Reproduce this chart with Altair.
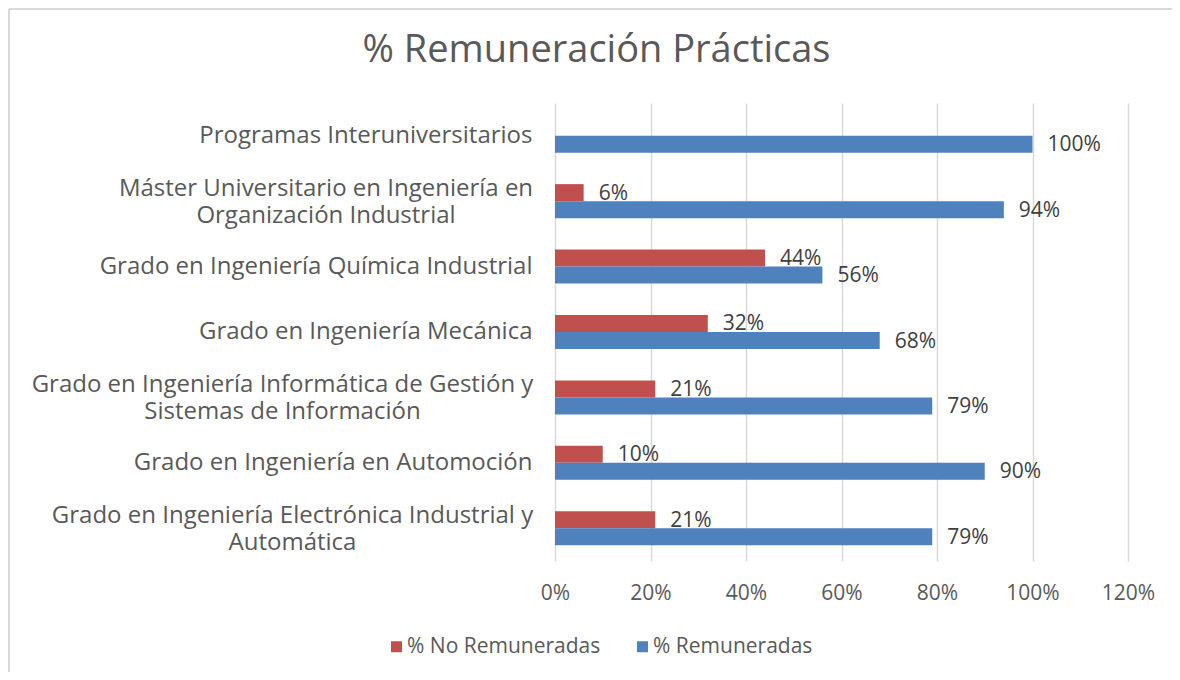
import json
import altair as alt
import pandas as pd

categories = [
    "Programas Interuniversitarios",
    "Máster Universitario en Ingeniería en\nOrganización Industrial",
    "Grado en Ingeniería Química Industrial",
    "Grado en Ingeniería Mecánica",
    "Grado en Ingeniería Informática de Gestión y\nSistemas de Información",
    "Grado en Ingeniería en Automoción",
    "Grado en Ingeniería Electrónica Industrial y\nAutomática",
]
no_remuneradas = [None, 6, 44, 32, 21, 10, 21]
remuneradas = [100, 94, 56, 68, 79, 90, 79]
series = ["% No Remuneradas", "% Remuneradas"]
colors = ["#C0504D", "#4F81BD"]
x_ticks = [0, 20, 40, 60, 80, 100, 120]

rows = []
for c, a, b in zip(categories, no_remuneradas, remuneradas):
    if a is not None:
        rows.append({"cat": c, "serie": series[0], "val": a, "lbl": f"{a}%"})
    if b is not None:
        rows.append({"cat": c, "serie": series[1], "val": b, "lbl": f"{b}%"})
df = pd.DataFrame(rows)

FONT = "Open Sans"
W, H = 573, 458
LABEL_GAP = 23
# approximate rendered widths (px) of the two-line label blocks, so their lines can be centred
block_width = {categories[1]: 413, categories[4]: 500, categories[6]: 480}


def _test(c):
    return f"datum.value == {json.dumps(c, ensure_ascii=False)}"


align_conds = [{"test": _test(c), "value": "center"} for c in block_width]
pad_conds = [{"test": _test(c), "value": LABEL_GAP + w / 2} for c, w in block_width.items()]
off_conds = [{"test": _test(c), "value": -12} for c in block_width]

y_enc = alt.Y(
    "cat:N", sort=categories,
    scale=alt.Scale(paddingInner=0.48, paddingOuter=0.24),
    axis=alt.Axis(title=None, domain=False, ticks=False, labelFontSize=24,
                  labelColor="#595959", labelFont=FONT, labelLimit=0,
                  labelAlign={"condition": align_conds, "value": "right"},
                  labelPadding={"condition": pad_conds, "value": LABEL_GAP},
                  labelOffset={"condition": off_conds, "value": 0},
                  labelExpr="split(datum.label, '\\n')",
                  labelLineHeight=27, labelBaseline="middle"),
)
yoff = alt.YOffset("serie:N", sort=series, scale=alt.Scale(paddingInner=0, paddingOuter=0))
x_enc = alt.X(
    "val:Q", scale=alt.Scale(domain=[0, 120], nice=False),
    axis=alt.Axis(title=None, values=x_ticks, domain=False, ticks=False,
                  grid=True, gridColor="#D9D9D9", gridWidth=1.5,
                  labelFontSize=21, labelColor="#595959", labelFont=FONT,
                  labelFlush=False, labelOverlap=False,
                  labelPadding=21, labelExpr="datum.value + '%'"),
)

base = alt.Chart(df)
bars = base.mark_bar().encode(
    x=x_enc, y=y_enc, yOffset=yoff,
    color=alt.Color("serie:N", sort=series,
                    scale=alt.Scale(domain=series, range=colors),
                    legend=alt.Legend(orient="none", legendX=-169, legendY=533,
                                      direction="horizontal", title=None,
                                      symbolType="square", symbolSize=121,
                                      symbolStrokeWidth=0, labelFontSize=21,
                                      labelColor="#595959", labelFont=FONT,
                                      labelLimit=0, columnPadding=31, labelOffset=0)),
)
texts = base.mark_text(align="left", baseline="middle", dx=15, dy=1,
                       fontSize=21, color="#404040", font=FONT).encode(
    x="val:Q", y=alt.Y("cat:N", sort=categories), yOffset=yoff, text="lbl:N")

border_df = pd.DataFrame({"k": [0]})
left_border = alt.Chart(border_df).mark_rule(color="#D9D9D9", strokeWidth=2).encode(
    x=alt.value(-546), y=alt.value(-94), y2=alt.value(700))
top_border = alt.Chart(border_df).mark_rule(color="#D9D9D9", strokeWidth=2).encode(
    x=alt.value(-546), x2=alt.value(700), y=alt.value(-94))

chart = alt.layer(left_border, top_border, bars, texts).properties(
    width=W, height=H,
    title=alt.TitleParams("% Remuneración Prácticas", fontSize=38, font=FONT,
                          color="#595959", fontWeight="normal", anchor="middle",
                          dx=-245, offset=-92, baseline="alphabetic"),
    autosize=alt.AutoSizeParams(type="none"),
    padding={"left": 547, "top": 95, "right": 44, "bottom": 111},
).configure_view(stroke=None)

chart.save("out.html", embed_options={"renderer": "svg", "actions": False})
